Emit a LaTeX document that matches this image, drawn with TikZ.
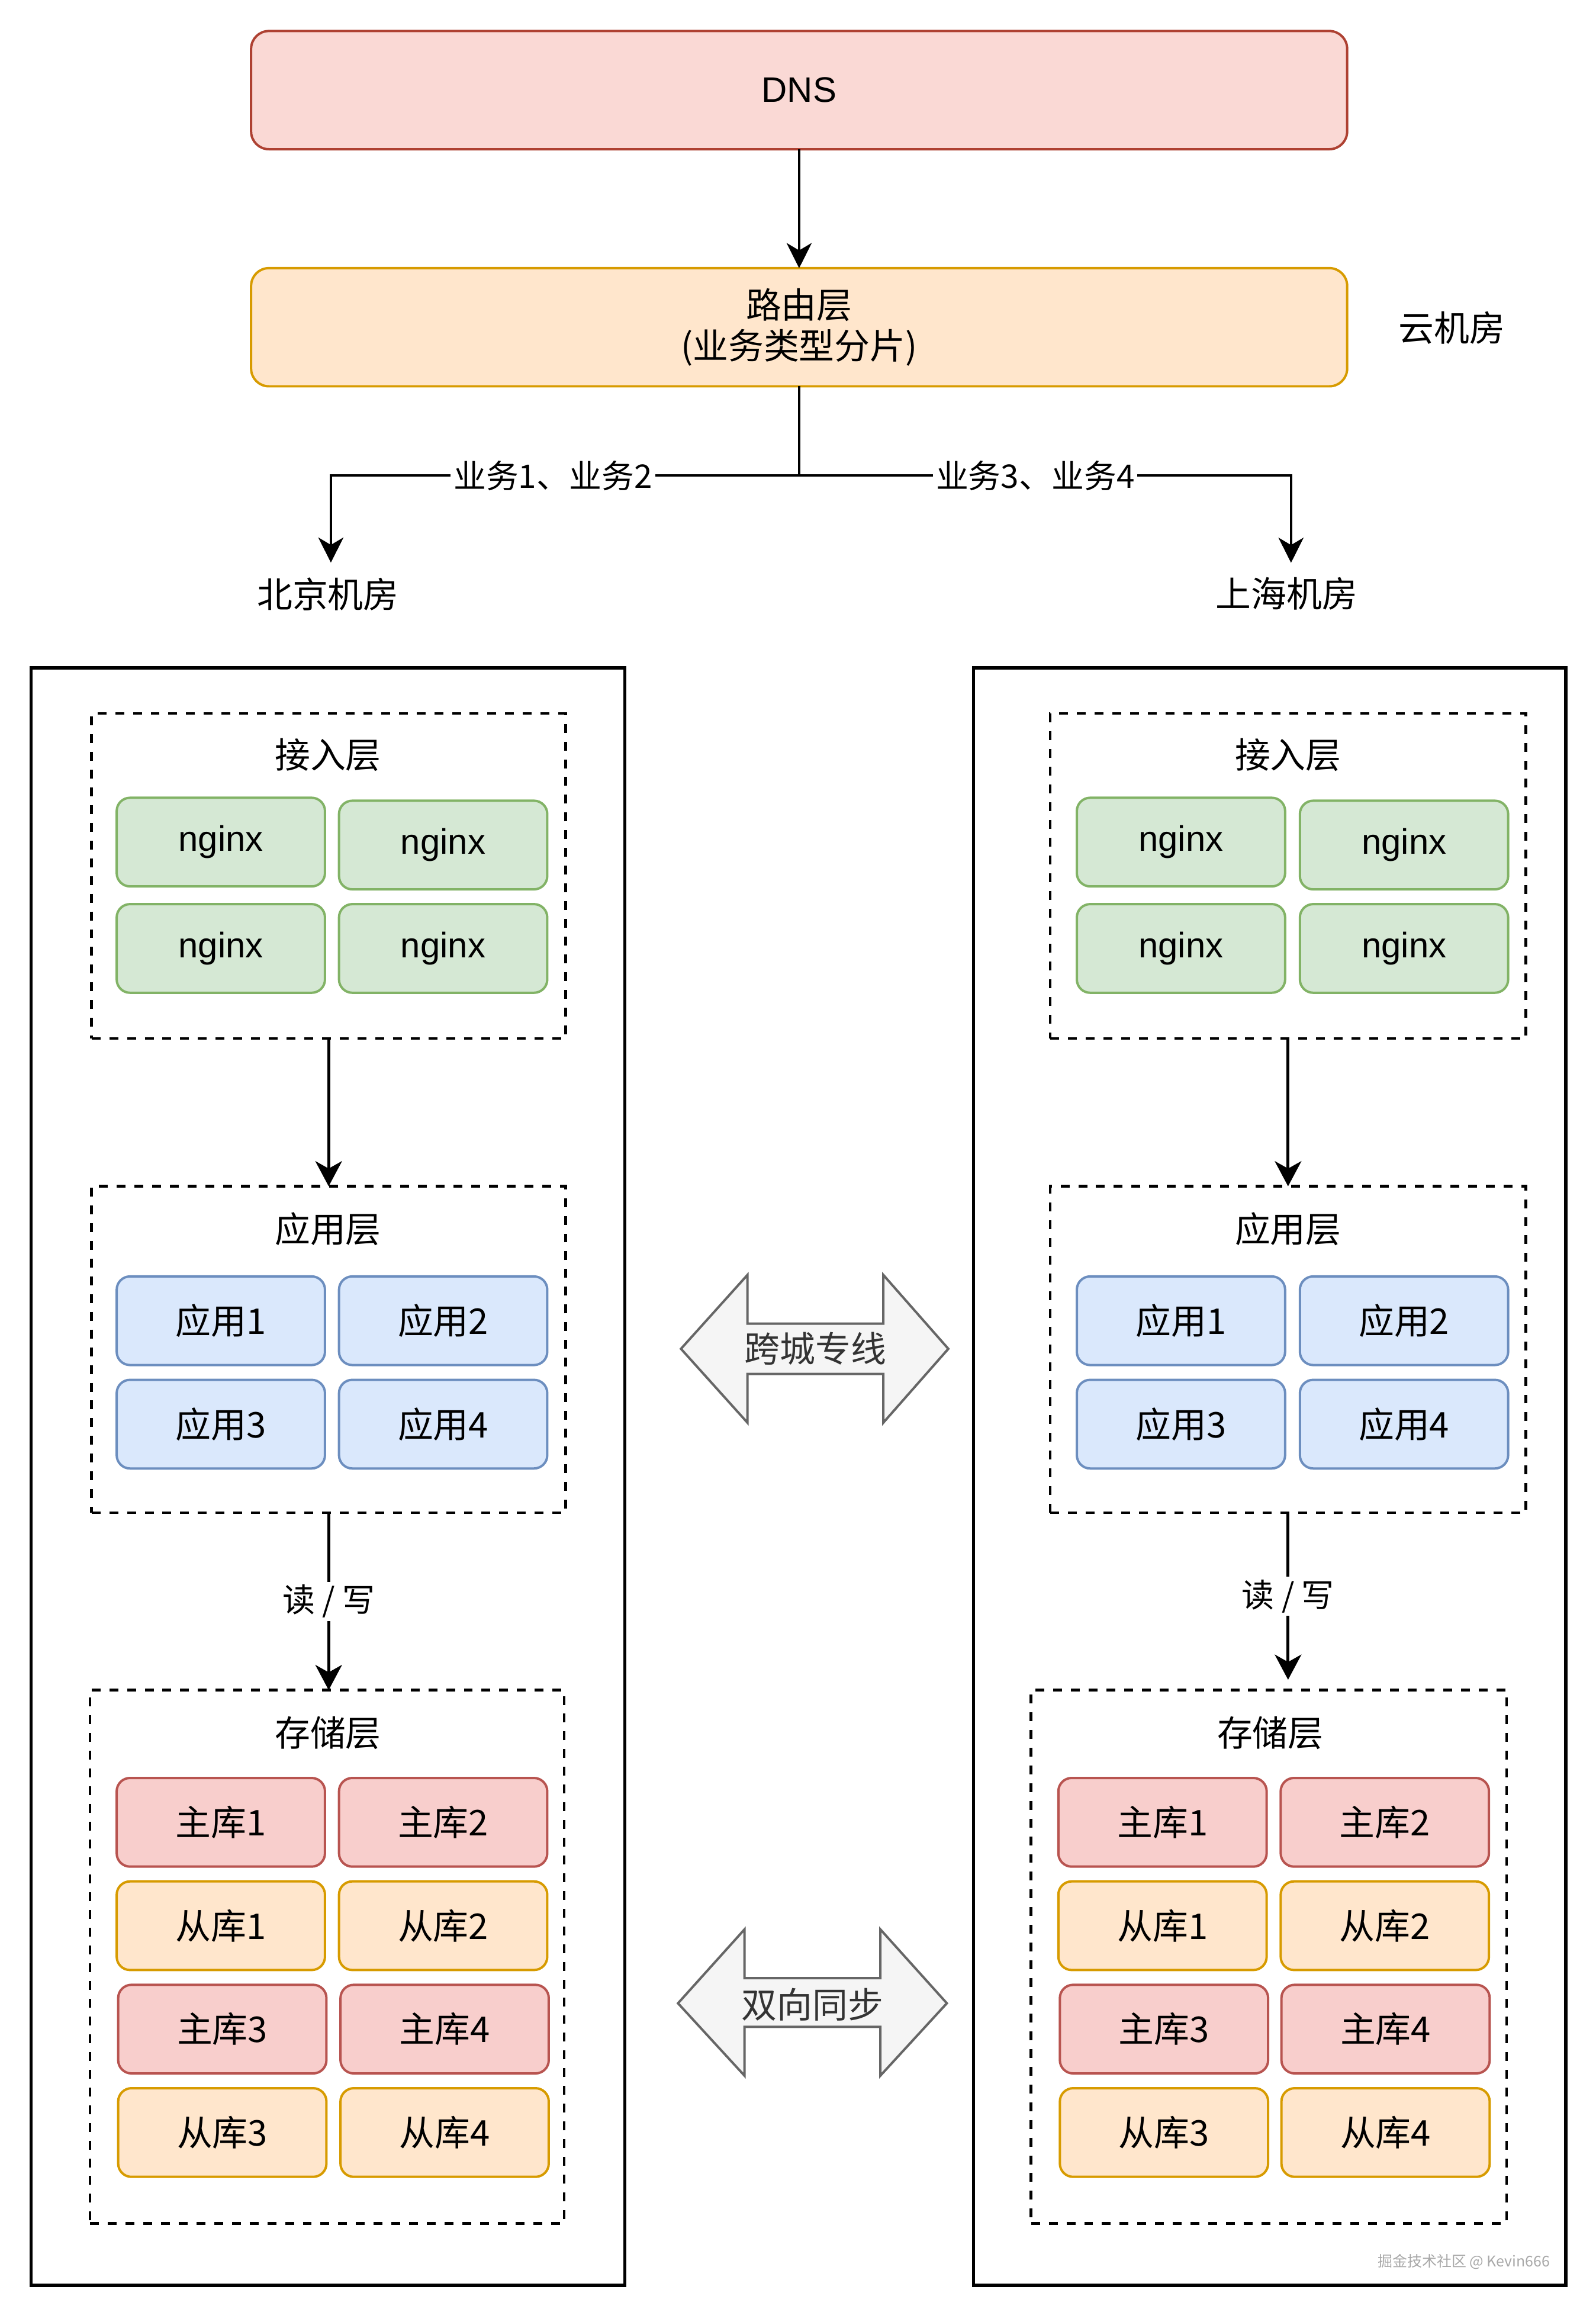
\documentclass[tikz,border=0pt]{standalone}
\usepackage{fontspec}
\setmainfont{Liberation Sans}
\newfontfamily\cjk{Noto Sans CJK SC}
\usetikzlibrary{arrows.meta}
\definecolor{dnsfill}{HTML}{FAD9D5}
\definecolor{dnsline}{HTML}{AE4132}
\definecolor{orfill}{HTML}{FFE6CC}
\definecolor{orline}{HTML}{D79B00}
\definecolor{grfill}{HTML}{D5E8D4}
\definecolor{grline}{HTML}{82B366}
\definecolor{blfill}{HTML}{DAE8FC}
\definecolor{blline}{HTML}{6C8EBF}
\definecolor{rdfill}{HTML}{F8CECC}
\definecolor{rdline}{HTML}{B85450}
\definecolor{gyfill}{HTML}{F5F5F5}
\definecolor{gyline}{HTML}{666666}
\definecolor{gytext}{HTML}{333333}
\definecolor{wmtext}{HTML}{A8A8A8}
\begin{document}
\begin{tikzpicture}[x=1pt,y=-1pt,
  every node/.style={inner sep=0pt, outer sep=0pt, font=\fontsize{24}{28}\selectfont},
  bigbox/.style={draw, line width=1.6pt, rounded corners=12pt, minimum width=742pt, minimum height=80pt, align=center},
  cell/.style={draw, line width=1.6pt, rounded corners=9pt, minimum width=141pt, minimum height=60pt},
  ngx/.style={cell, fill=grfill, draw=grline},
  appc/.style={cell, fill=blfill, draw=blline, font=\cjk\fontsize{24}{28}\selectfont},
  mst/.style={cell, fill=rdfill, draw=rdline, font=\cjk\fontsize{24}{28}\selectfont},
  slv/.style={cell, fill=orfill, draw=orline, font=\cjk\fontsize{24}{28}\selectfont},
  layer/.style={draw, line width=1.8pt, dash pattern=on 6pt off 6pt},
  room/.style={draw, line width=2.2pt, minimum width=402pt, minimum height=1095pt},
  ttl/.style={font=\cjk\fontsize{24}{28}\selectfont},
  conn/.style={line width=1.6pt},
  arr/.style={conn, -{Stealth[length=17pt,width=17pt,inset=5pt]}},
  arrin/.style={line width=1.9pt, -{Stealth[length=17pt,width=18pt,inset=5pt]}},
  elabel/.style={fill=white, inner sep=2pt, font=\cjk\fontsize{22}{26}\selectfont},
  blk/.style={fill=gyfill, draw=gyline, line width=1.6pt, line join=miter},
  blktext/.style={text=gytext, font=\cjk\fontsize{24}{28}\selectfont},
]
\useasboundingbox (0,0) rectangle (1080.1,1565);

% top
\node[bigbox, fill=dnsfill, draw=dnsline] (dns) at (541,61) {DNS};
\node[bigbox, fill=orfill, draw=orline, font=\cjk\fontsize{24}{28}\selectfont] (route) at (541,221.5) {路由层\\(业务类型分片)};
\node[ttl] (cloud) at (983,222) {云机房};
\draw[arr] (dns.south) -- (route.north);

\coordinate (split) at (541,322);
\node[ttl] (bj) at (222,402) {北京机房};
\node[ttl] (sh) at (871,402) {上海机房};
\draw[conn] (route.south) -- (split);
\draw[arr] (split) -| node[elabel, pos=0.263] (lb1) {业务1、业务2} ([xshift=2pt,yshift=10pt]bj.north);
\draw[arr] (split) -| node[elabel, pos=0.24] (lb2) {业务3、业务4} ([xshift=3pt,yshift=10pt]sh.north);

% rooms
\node[room] (roomL) at (222,999.5) {};
\node[room, minimum width=401pt] (roomR) at (859.5,999.5) {};

% ---------- left column ----------
\node[layer, minimum width=321pt, minimum height=220pt] (accL) at (222.5,593) {};
\node[ttl] (accLt) at (222,511) {接入层};
\node[ngx] (ngL1) at (149.5,570) {nginx};
\node[ngx] (ngL2) at (300,572) {nginx};
\node[ngx] (ngL3) at (149.5,642) {nginx};
\node[ngx] (ngL4) at (300,642) {nginx};

\node[layer, minimum width=321pt, minimum height=221pt] (appL) at (222.5,913.5) {};
\node[ttl] (appLt) at (222,832) {应用层};
\node[appc] (apL1) at (149.5,894) {应用1};
\node[appc] (apL2) at (300,894) {应用2};
\node[appc] (apL3) at (149.5,964) {应用3};
\node[appc] (apL4) at (300,964) {应用4};

\node[layer, minimum width=321pt, minimum height=361pt] (stoL) at (221.5,1324.5) {};
\node[ttl] (stoLt) at (222,1173) {存储层};
\node[mst] (dbL1) at (149.5,1233.5) {主库1};
\node[mst] (dbL2) at (300,1233.5) {主库2};
\node[slv] (dbL3) at (149.5,1303.5) {从库1};
\node[slv] (dbL4) at (300,1303.5) {从库2};
\node[mst] (dbL5) at (150.5,1373.5) {主库3};
\node[mst] (dbL6) at (301,1373.5) {主库4};
\node[slv] (dbL7) at (150.5,1443.5) {从库3};
\node[slv] (dbL8) at (301,1443.5) {从库4};

\draw[arrin] (accL.south) -- (accL.south |- appL.north);
\draw[arrin] (appL.south) -- node[elabel] (rwL) {读 / 写} (appL.south |- stoL.north);

% ---------- right column ----------
\node[layer, minimum width=322pt, minimum height=220pt] (accR) at (872,593) {};
\node[ttl] (accRt) at (872,511) {接入层};
\node[ngx] (ngR1) at (799.5,570) {nginx};
\node[ngx] (ngR2) at (950.5,572) {nginx};
\node[ngx] (ngR3) at (799.5,642) {nginx};
\node[ngx] (ngR4) at (950.5,642) {nginx};

\node[layer, minimum width=322pt, minimum height=221pt] (appR) at (872,913.5) {};
\node[ttl] (appRt) at (872,832) {应用层};
\node[appc] (apR1) at (799.5,894) {应用1};
\node[appc] (apR2) at (950.5,894) {应用2};
\node[appc] (apR3) at (799.5,964) {应用3};
\node[appc] (apR4) at (950.5,964) {应用4};

\node[layer, minimum width=322pt, minimum height=361pt] (stoR) at (859,1324.5) {};
\node[ttl] (stoRt) at (860,1173) {存储层};
\node[mst] (dbR1) at (787,1233.5) {主库1};
\node[mst] (dbR2) at (937.5,1233.5) {主库2};
\node[slv] (dbR3) at (787,1303.5) {从库1};
\node[slv] (dbR4) at (937.5,1303.5) {从库2};
\node[mst] (dbR5) at (788,1373.5) {主库3};
\node[mst] (dbR6) at (938,1373.5) {主库4};
\node[slv] (dbR7) at (788,1443.5) {从库3};
\node[slv] (dbR8) at (938,1443.5) {从库4};

\coordinate (rwRend) at (872,1137);
\draw[arrin] (accR.south) -- (accR.south |- appR.north);
\draw[arrin] (appR.south) -- node[elabel] (rwR) {读 / 写} (rwRend);

% ---------- block arrows ----------
\draw[blk] (461,913) -- (506,863) -- (506,896) -- (598,896) -- (598,863) -- (642,913)
  -- (598,963) -- (598,930) -- (506,930) -- (506,963) -- cycle;
\node[blktext] (line1) at (552,913) {跨城专线};
\draw[blk] (459,1356) -- (504,1306) -- (504,1339) -- (596,1339) -- (596,1306) -- (641,1356)
  -- (596,1405) -- (596,1372) -- (504,1372) -- (504,1405) -- cycle;
\node[blktext] (line2) at (550,1357) {双向同步};

% watermark
\node[text=wmtext, font=\cjk\fontsize{10}{12}\selectfont] (wm) at (991,1531) {掘金技术社区 @ Kevin666};
\end{tikzpicture}
\end{document}
